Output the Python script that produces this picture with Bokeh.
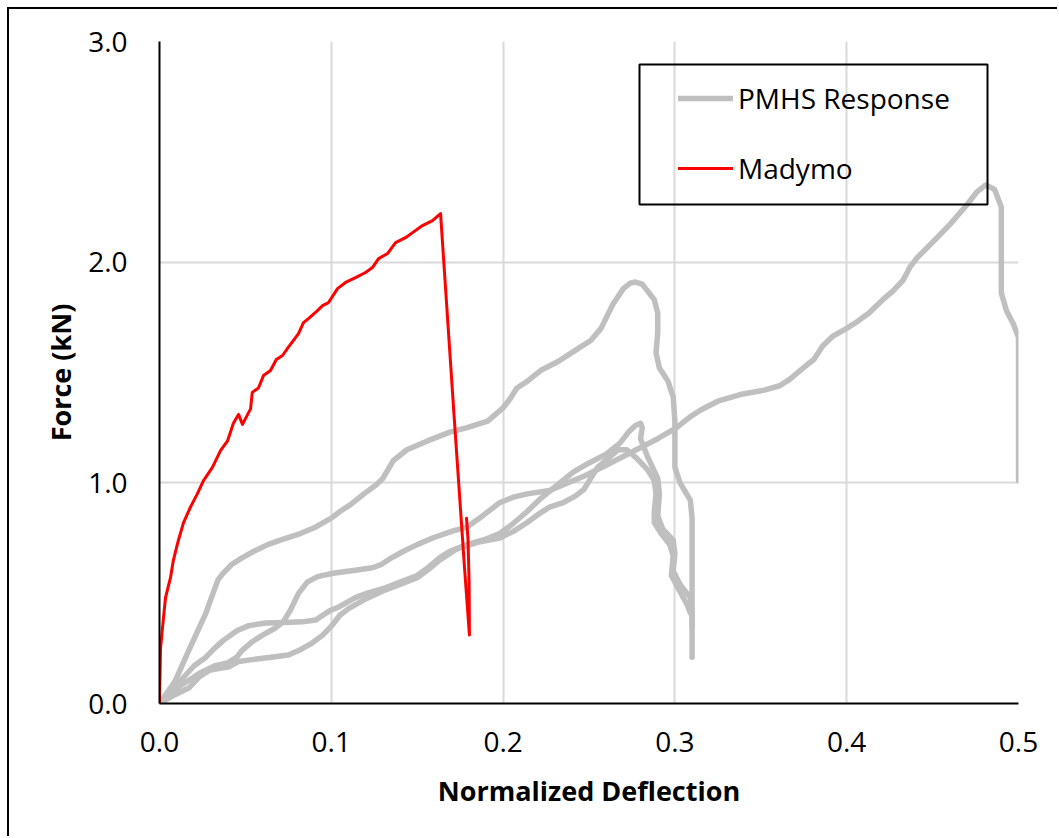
from bokeh.plotting import figure
from bokeh.models import (Range1d, FixedTicker, PrintfTickFormatter, Legend,
                          LegendItem, BoxAnnotation)
from bokeh.embed import file_html
from bokeh.resources import INLINE

# PMHS test curves: (normalized deflection, force kN)
pmhs_a = [(0, 0), (0.009, 0.10), (0.017, 0.24), (0.027, 0.41), (0.034, 0.56), (0.037, 0.59),
          (0.042, 0.63), (0.048, 0.66), (0.055, 0.69), (0.063, 0.72), (0.072, 0.745), (0.082, 0.77),
          (0.091, 0.80), (0.100, 0.84), (0.105, 0.87), (0.111, 0.90), (0.119, 0.95), (0.126, 0.99),
          (0.130, 1.02), (0.136, 1.10), (0.144, 1.15), (0.156, 1.19), (0.169, 1.23), (0.179, 1.25),
          (0.191, 1.28), (0.200, 1.34), (0.204, 1.38), (0.208, 1.43), (0.214, 1.46), (0.222, 1.51),
          (0.232, 1.55), (0.240, 1.59), (0.251, 1.645), (0.257, 1.70), (0.264, 1.81), (0.270, 1.88),
          (0.274, 1.905), (0.277, 1.91), (0.281, 1.90), (0.284, 1.87), (0.288, 1.83), (0.290, 1.77),
          (0.290, 1.68), (0.289, 1.59), (0.291, 1.52), (0.296, 1.46), (0.299, 1.39), (0.300, 1.28),
          (0.300, 1.17), (0.300, 1.07), (0.303, 1.00), (0.306, 0.96), (0.309, 0.92), (0.310, 0.84),
          (0.310, 0.65), (0.310, 0.47), (0.310, 0.21)]

pmhs_b = [(0, 0), (0.006, 0.04), (0.012, 0.08), (0.018, 0.11), (0.023, 0.136), (0.032, 0.17),
          (0.040, 0.185), (0.045, 0.21), (0.048, 0.24), (0.054, 0.28), (0.060, 0.31), (0.067, 0.34),
          (0.072, 0.37), (0.076, 0.42), (0.081, 0.50), (0.086, 0.55), (0.092, 0.575), (0.101, 0.59),
          (0.115, 0.605), (0.124, 0.615), (0.129, 0.63), (0.134, 0.655), (0.142, 0.69), (0.150, 0.72),
          (0.159, 0.75), (0.170, 0.78), (0.179, 0.80), (0.188, 0.85), (0.198, 0.91), (0.206, 0.935),
          (0.214, 0.95), (0.227, 0.965), (0.233, 0.985), (0.247, 1.03), (0.260, 1.08), (0.275, 1.14),
          (0.290, 1.20), (0.301, 1.25), (0.309, 1.30), (0.315, 1.33), (0.325, 1.37), (0.338, 1.40),
          (0.352, 1.42), (0.361, 1.44), (0.367, 1.47), (0.373, 1.51), (0.381, 1.56), (0.386, 1.62),
          (0.392, 1.665), (0.400, 1.70), (0.406, 1.73), (0.413, 1.77), (0.421, 1.83), (0.427, 1.87),
          (0.433, 1.92), (0.437, 1.98), (0.441, 2.02), (0.450, 2.09), (0.460, 2.17), (0.470, 2.26),
          (0.476, 2.32), (0.481, 2.35), (0.486, 2.33), (0.490, 2.25), (0.490, 2.05), (0.490, 1.86),
          (0.493, 1.78), (0.497, 1.72), (0.500, 1.66), (0.500, 1.01)]

pmhs_c = [(0, 0), (0.006, 0.05), (0.013, 0.11), (0.020, 0.17), (0.027, 0.21), (0.032, 0.25),
          (0.037, 0.285), (0.045, 0.33), (0.052, 0.353), (0.062, 0.365), (0.072, 0.367), (0.083, 0.37),
          (0.091, 0.378), (0.095, 0.40), (0.099, 0.42), (0.105, 0.44), (0.114, 0.48), (0.121, 0.50),
          (0.130, 0.52), (0.140, 0.55), (0.150, 0.58), (0.157, 0.62), (0.163, 0.66), (0.169, 0.69),
          (0.179, 0.72), (0.190, 0.745), (0.198, 0.77), (0.205, 0.81), (0.214, 0.87), (0.222, 0.93),
          (0.233, 1.00), (0.241, 1.05), (0.250, 1.09), (0.260, 1.13), (0.268, 1.18), (0.273, 1.23),
          (0.277, 1.26), (0.280, 1.27), (0.281, 1.25), (0.280, 1.20), (0.284, 1.12), (0.290, 1.02),
          (0.291, 0.95), (0.290, 0.85), (0.293, 0.79), (0.299, 0.74), (0.300, 0.68), (0.299, 0.60),
          (0.303, 0.54), (0.309, 0.48), (0.310, 0.42), (0.310, 0.35)]

pmhs_d = [(0, 0), (0.009, 0.04), (0.017, 0.07), (0.023, 0.12), (0.029, 0.15), (0.035, 0.16),
          (0.040, 0.165), (0.046, 0.19), (0.055, 0.20), (0.065, 0.21), (0.075, 0.22), (0.081, 0.24),
          (0.088, 0.27), (0.095, 0.31), (0.100, 0.35), (0.105, 0.40), (0.110, 0.43), (0.119, 0.47),
          (0.130, 0.51), (0.140, 0.54), (0.150, 0.57), (0.157, 0.61), (0.163, 0.65), (0.173, 0.70),
          (0.185, 0.73), (0.198, 0.75), (0.206, 0.78), (0.214, 0.82), (0.221, 0.86), (0.227, 0.89),
          (0.235, 0.91), (0.242, 0.94), (0.247, 0.97), (0.251, 1.02), (0.255, 1.07), (0.261, 1.11),
          (0.267, 1.15), (0.272, 1.15), (0.278, 1.11), (0.284, 1.06), (0.288, 1.01), (0.289, 0.95),
          (0.288, 0.87), (0.288, 0.82), (0.292, 0.77), (0.297, 0.72), (0.299, 0.67), (0.298, 0.58),
          (0.302, 0.52), (0.307, 0.45), (0.309, 0.41)]

# Madymo model response
madymo = [(0, 0), (0.0006, 0.25), (0.0017, 0.34), (0.0035, 0.48), (0.0064, 0.57), (0.0081, 0.65),
          (0.011, 0.74), (0.014, 0.82), (0.018, 0.89), (0.022, 0.95), (0.0256, 1.01), (0.0308, 1.07),
          (0.0355, 1.146), (0.0396, 1.19), (0.043, 1.27), (0.046, 1.31), (0.0483, 1.265), (0.053, 1.335),
          (0.054, 1.41), (0.0576, 1.43), (0.0605, 1.486), (0.0646, 1.509), (0.068, 1.559), (0.0716, 1.577),
          (0.0745, 1.609), (0.0809, 1.676), (0.0838, 1.726), (0.0867, 1.744), (0.0908, 1.772),
          (0.0949, 1.803), (0.0984, 1.817), (0.1036, 1.88), (0.1083, 1.908), (0.1141, 1.93),
          (0.1199, 1.953), (0.124, 1.976), (0.1275, 2.016), (0.1327, 2.039), (0.1374, 2.089),
          (0.1432, 2.111), (0.1473, 2.134), (0.1531, 2.166), (0.1589, 2.188), (0.1636, 2.22),
          (0.1715, 1.30), (0.1775, 0.62), (0.1804, 0.31), (0.1802, 0.55), (0.1796, 0.74), (0.1787, 0.84)]

x_ticks = [0.0, 0.1, 0.2, 0.3, 0.4, 0.5]
y_ticks = [0.0, 1.0, 2.0, 3.0]

FONT = "Open Sans"
GRAY = "#bfbfbf"

p = figure(width=1050, height=829, x_range=Range1d(0, 0.5), y_range=Range1d(0, 3),
           output_backend="svg", toolbar_location=None,
           min_border_left=150, min_border_right=41, min_border_top=32, min_border_bottom=135,
           margin=(7, 0, 0, 7),
           styles={"border-left": "2px solid #000000", "border-top": "2px solid #000000"})
p.outline_line_color = None
p.background_fill_color = "white"
p.border_fill_color = "white"

p.xaxis.ticker = FixedTicker(ticks=x_ticks)
p.yaxis.ticker = FixedTicker(ticks=y_ticks)
p.xgrid.ticker = p.xaxis.ticker
p.ygrid.ticker = p.yaxis.ticker
p.xaxis.formatter = PrintfTickFormatter(format="%.1f")
p.yaxis.formatter = PrintfTickFormatter(format="%.1f")

for ax in (p.xaxis, p.yaxis):
    ax.axis_line_color = "black"
    ax.axis_line_width = 2
    ax.major_tick_line_color = None
    ax.minor_tick_line_color = None
    ax.major_label_text_font = FONT
    ax.major_label_text_font_size = "28px"
    ax.major_label_text_color = "black"
    ax.axis_label_text_font = FONT
    ax.axis_label_text_font_size = "27px"
    ax.axis_label_text_font_style = "bold"
    ax.axis_label_text_color = "black"

p.xaxis.axis_label = "Normalized Deflection"
p.yaxis.axis_label = "Force (kN)"
p.xaxis.major_label_standoff = 22
p.yaxis.major_label_standoff = 26
p.xaxis.axis_label_standoff = 17
p.yaxis.axis_label_standoff = 6

for g in (p.xgrid, p.ygrid):
    g.grid_line_color = "#d9d9d9"
    g.grid_line_width = 2

renderers = []
for curve in (pmhs_a, pmhs_b, pmhs_c, pmhs_d):
    xs, ys = zip(*curve)
    r = p.line(list(xs), list(ys), line_color=GRAY, line_width=5.5,
               line_join="round", line_cap="round")
    renderers.append(r)

mx, my = zip(*madymo)
r_mad = p.line(list(mx), list(my), line_color="#ff0000", line_width=3,
               line_join="round", line_cap="round")

legend = Legend(items=[LegendItem(label="PMHS Response", renderers=[renderers[0]]),
                       LegendItem(label="Madymo", renderers=[r_mad])],
                location=(519, 515), orientation="vertical",
                border_line_color=None, background_fill_alpha=0,
                padding=10, spacing=30, glyph_width=55, glyph_height=40,
                label_height=40, label_standoff=5,
                label_text_font=FONT, label_text_font_size="28px",
                label_text_color="black", label_text_baseline="middle")
p.add_layout(legend)

# frame drawn around the legend
p.add_layout(BoxAnnotation(left=628, right=976, top=53, bottom=193,
                           left_units="canvas", right_units="canvas",
                           top_units="canvas", bottom_units="canvas",
                           fill_alpha=0, line_color="black", line_alpha=1.0, line_width=2))

open("out.html", "w").write(file_html(p, INLINE))
